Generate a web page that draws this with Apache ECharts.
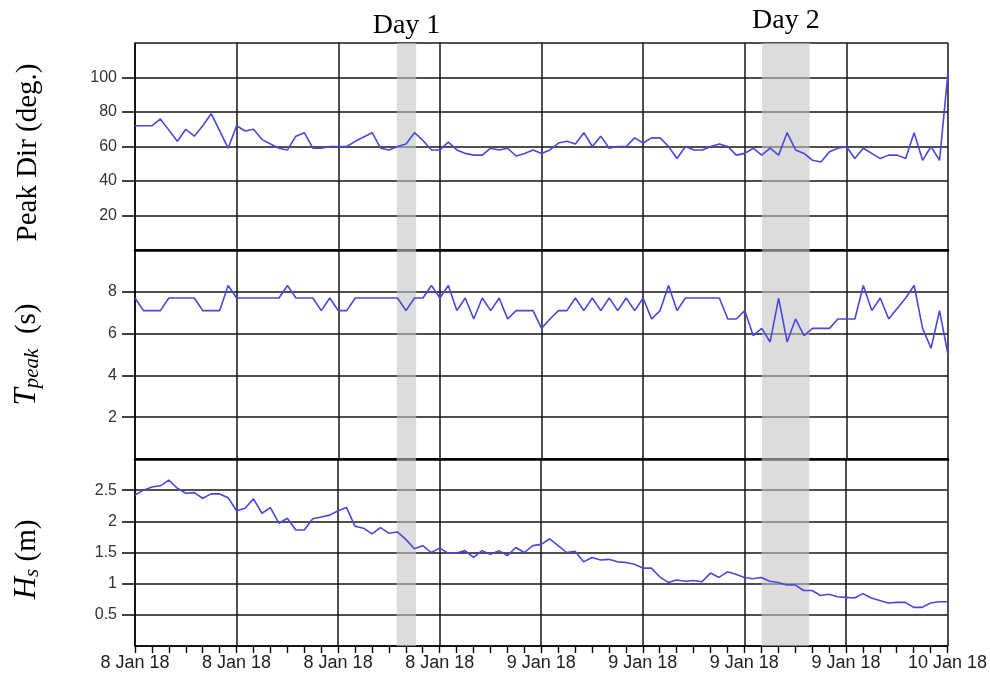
<!DOCTYPE html>
<html>
<head>
<meta charset="utf-8">
<script src="https://cdn.jsdelivr.net/npm/echarts@6/dist/echarts.min.js"></script>
<style>
  html, body { margin: 0; padding: 0; background: #fff; }
  #chart { width: 990px; height: 675px; }
</style>
</head>
<body>
<div id="chart"></div>
<script>
// Half-hourly wave parameters, 8 Jan 2018 00:00 to 10 Jan 2018 00:00
const startTime = '2018-01-08T00:00';
const stepMinutes = 30;

// Peak direction (deg.)
const peakDir = [
  72, 72, 72, 76, 69.5, 63, 70, 66, 72, 79, 69, 59, 72,
  69, 70, 64, 61.5, 59, 58, 66, 68, 59, 59, 60, 60,
  60, 63, 65.5, 68, 59, 58, 60, 61.5, 68, 63.5, 58, 58,
  62.5, 58, 56, 55, 55, 59, 58, 59, 54.5, 56, 58, 56,
  58, 62, 63, 61.5, 68, 60, 66, 59, 60, 60, 65, 62,
  65, 65, 60, 53, 60, 58, 58, 60, 61.5, 60, 55, 56,
  59, 55, 59, 55, 68, 58, 56, 52, 51, 57, 59, 60,
  53, 59, 56, 53, 55, 55, 53, 68, 52, 60, 52, 103
];

// Peak period (s)
const tPeak = [
  7.7, 7.1, 7.1, 7.1, 7.7, 7.7, 7.7, 7.7, 7.1, 7.1, 7.1, 8.3, 7.7,
  7.7, 7.7, 7.7, 7.7, 7.7, 8.3, 7.7, 7.7, 7.7, 7.1, 7.7, 7.1,
  7.1, 7.7, 7.7, 7.7, 7.7, 7.7, 7.7, 7.1, 7.7, 7.7, 8.3, 7.7,
  8.3, 7.1, 7.7, 6.7, 7.7, 7.1, 7.7, 6.7, 7.1, 7.1, 7.1, 6.25,
  6.7, 7.1, 7.1, 7.7, 7.1, 7.7, 7.1, 7.7, 7.1, 7.7, 7.1, 7.7,
  6.7, 7.1, 8.3, 7.1, 7.7, 7.7, 7.7, 7.7, 7.7, 6.7, 6.7, 7.1,
  5.9, 6.25, 5.6, 7.7, 5.6, 6.7, 5.9, 6.25, 6.25, 6.25, 6.7, 6.7,
  6.7, 8.3, 7.1, 7.7, 6.7, 7.2, 7.7, 8.3, 6.25, 5.3, 7.1, 5.0
];

// Significant wave height (m)
const hs = [
  2.42, 2.5, 2.55, 2.57, 2.66, 2.53, 2.45, 2.46, 2.37, 2.44, 2.44, 2.38, 2.17,
  2.21, 2.36, 2.13, 2.22, 1.97, 2.05, 1.86, 1.86, 2.04, 2.07, 2.1, 2.17,
  2.22, 1.92, 1.89, 1.8, 1.9, 1.81, 1.83, 1.71, 1.56, 1.61, 1.5, 1.57,
  1.49, 1.49, 1.53, 1.42, 1.53, 1.47, 1.53, 1.45, 1.58, 1.5, 1.61, 1.63,
  1.72, 1.61, 1.5, 1.52, 1.35, 1.42, 1.38, 1.39, 1.35, 1.34, 1.31, 1.25,
  1.25, 1.11, 1.02, 1.06, 1.04, 1.05, 1.03, 1.17, 1.1, 1.19, 1.15, 1.1,
  1.08, 1.1, 1.04, 1.02, 0.98, 0.98, 0.89, 0.89, 0.81, 0.83, 0.79, 0.78,
  0.77, 0.84, 0.77, 0.73, 0.69, 0.7, 0.7, 0.62, 0.62, 0.69, 0.71, 0.71
];

// Time-axis tick labels, one per 6 h
const xTickLabels = [
  '8 Jan 18', '8 Jan 18', '8 Jan 18', '8 Jan 18',
  '9 Jan 18', '9 Jan 18', '9 Jan 18', '9 Jan 18', '10 Jan 18'
];

// Observation windows (hours after start)
const dayNames = ['Day 1', 'Day 2'];
const dayStart = [15.46, 37.02];
const dayEnd = [16.6, 39.83];

const LINE = '#4848dc';
const GRIDC = '#151515';
const SERIF = '"Liberation Serif", "Times New Roman", serif';
const SANS = '"Liberation Sans", Arial, sans-serif';

const hoursAt = i => i * stepMinutes / 60;
const toPairs = arr => arr.map((v, i) => [hoursAt(i), v]);

const grids = [
  { left: 135, right: 42, top: 43, height: 207 },
  { left: 135, right: 42, top: 250, height: 209 },
  { left: 135, right: 42, top: 459, height: 187 }
];

function xAxis(idx) {
  const bottom = idx === 2;
  return {
    type: 'value', gridIndex: idx, min: 0, max: 48, interval: 6,
    axisLine: { show: true, onZero: false, lineStyle: { color: '#000', width: bottom ? 1.6 : 2.6 } },
    axisTick: { show: bottom, length: 7, lineStyle: { color: '#000', width: 1.4 } },
    minorTick: { show: bottom, splitNumber: 6, length: 7, lineStyle: { color: '#000', width: 1.4 } },
    splitLine: { show: true, lineStyle: { color: GRIDC, width: 1.5 } },
    axisLabel: {
      show: bottom, margin: 8, fontFamily: SANS, fontSize: 18, color: '#222',
      formatter: v => xTickLabels[Math.round(v / 6)] || ''
    }
  };
}

function yAxis(idx, max, interval, name, rich, pad) {
  return {
    type: 'value', gridIndex: idx, min: 0, max: max, interval: interval,
    axisLine: { show: true, lineStyle: { color: '#000', width: 1.5 } },
    axisTick: { show: true, length: 13, lineStyle: { color: '#000', width: 1.5 } },
    splitLine: { show: true, lineStyle: { color: GRIDC, width: 1.5 } },
    axisLabel: {
      margin: 18, fontFamily: SANS, fontSize: 16, color: '#333',
      showMinLabel: false, showMaxLabel: false
    },
    name: name, nameLocation: 'middle', nameGap: 92, nameRotate: 90,
    nameTextStyle: { fontFamily: SERIF, fontSize: 29, color: '#000', rich: rich, padding: pad }
  };
}

const subRich = {
  it: { fontFamily: SERIF, fontStyle: 'italic', fontSize: 31, color: '#000' },
  sub: { fontFamily: SERIF, fontStyle: 'italic', fontSize: 21, color: '#000', padding: [11, 0, 0, 0] },
  n: { fontFamily: SERIF, fontSize: 29, color: '#000' }
};

function bandSeries(idx, withLabel) {
  return {
    type: 'line', xAxisIndex: idx, yAxisIndex: idx, data: [], z: 5, silent: true,
    markArea: {
      silent: true,
      itemStyle: { color: 'rgba(196,196,196,0.6)' },
      label: {
        show: withLabel, position: 'top', fontFamily: SERIF, fontSize: 28, color: '#000', distance: 3
      },
      data: dayNames.map((n, k) => [
        { name: n, xAxis: dayStart[k], label: { distance: k === 1 ? 8 : 3 } },
        { xAxis: dayEnd[k] }
      ])
    }
  };
}

function lineSeries(idx, arr) {
  return {
    type: 'line', xAxisIndex: idx, yAxisIndex: idx, data: toPairs(arr),
    showSymbol: false, z: 2, lineStyle: { color: LINE, width: 1.6 }
  };
}

const chart = echarts.init(document.getElementById('chart'), null, { renderer: 'canvas' });
chart.setOption({
  animation: false,
  backgroundColor: '#fff',
  grid: grids,
  xAxis: [xAxis(0), xAxis(1), xAxis(2)],
  yAxis: [
    yAxis(0, 120, 20, 'Peak Dir (deg.)', undefined, [0, 12, 0, 0]),
    yAxis(1, 10, 2, '{it|T}{sub|peak}{n|  (s)}', subRich, [0, 0, 0, 0]),
    yAxis(2, 3, 0.5, '{it|H}{sub|s}{n| (m)}', subRich, [0, 14, 0, 0])
  ],
  series: [
    lineSeries(0, peakDir),
    lineSeries(1, tPeak),
    lineSeries(2, hs),
    bandSeries(0, true),
    bandSeries(1, false),
    bandSeries(2, false)
  ]
});
</script>
</body>
</html>
